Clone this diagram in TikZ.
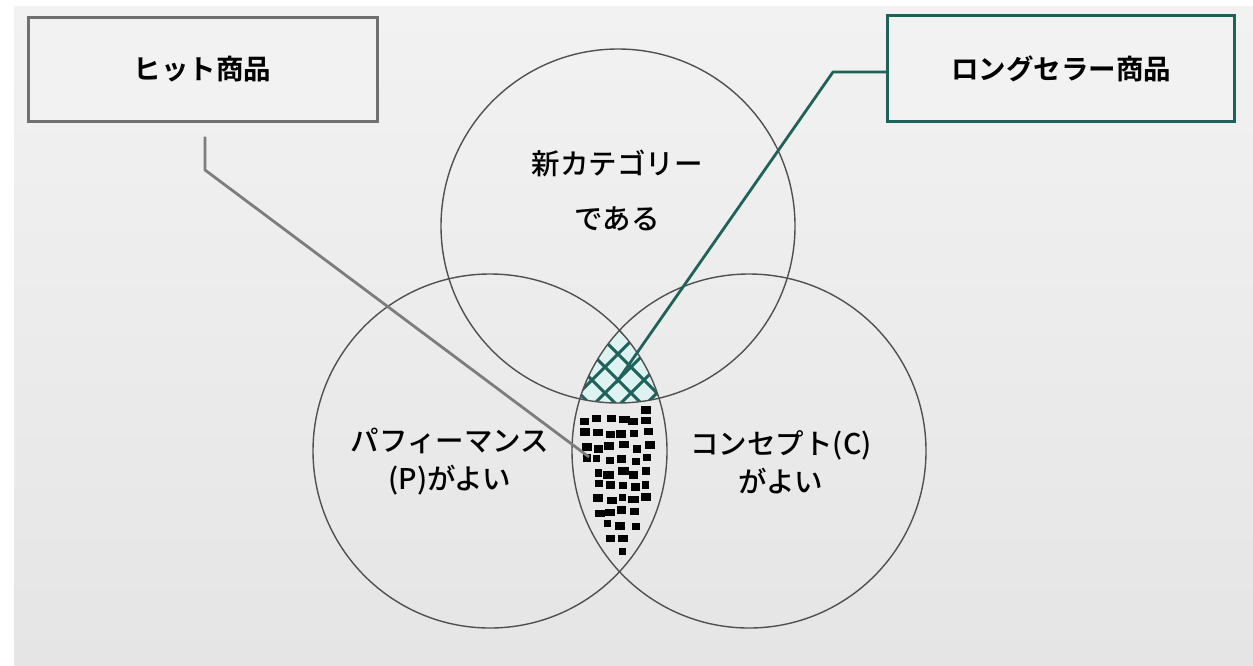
\documentclass[tikz,border=0pt]{standalone}
\usepackage{fontspec}
\newfontfamily\jp{Noto Sans CJK JP Medium}
\newfontfamily\jpb{Noto Sans CJK JP Bold}
\definecolor{teal1}{RGB}{31,98,90}
\definecolor{boxgray}{RGB}{112,112,112}
\definecolor{linegray}{RGB}{125,125,125}
\definecolor{circ}{RGB}{80,80,80}
\definecolor{bgtop}{RGB}{242,242,242}
\definecolor{bgbot}{RGB}{229,229,229}
\definecolor{hatchfill}{RGB}{222,242,242}
\begin{document}
\begin{tikzpicture}[x=1pt,y=-1pt,
  labelbox/.style={rectangle, line width=3pt, fill=bgtop, inner sep=0pt, font=\jpb\fontsize{27.5}{32}\selectfont},
  circtext/.style={align=center, inner sep=0pt},
  vcircle/.style={draw=circ, line width=1.4pt},
  conn/.style={line width=2.8pt}]
\useasboundingbox (0,0) rectangle (1253,665);
\fill[white] (0,0) rectangle (1253,665);
\shade[top color=bgtop, bottom color=bgbot] (14,6) rectangle (1253,665);
% hatch region (triple intersection)
\begin{scope}
  \clip (618,226) circle [radius=177pt];
  \clip (490,451) circle [radius=177pt];
  \clip (749,451) circle [radius=177pt];
  \fill[hatchfill] (540,300) rectangle (700,420);
  \foreach \c in {160,186,...,370} {
    \draw[teal1, line width=3pt] (\c+300,300) -- (\c+420,420);
  }
  \foreach \c in {868,894,...,1100} {
    \draw[teal1, line width=3pt] (\c-300,300) -- (\c-420,420);
  }
\end{scope}
% dots
\pgfmathsetseed{5}
\foreach \i in {0,...,8} {
  \foreach \j in {0,...,12} {
    \pgfmathsetmacro{\xx}{570+\i*12.5+rnd*5}
    \pgfmathsetmacro{\yy}{405+\j*13+rnd*5}
    \pgfmathsetmacro{\ww}{7+rnd*4}
    \pgfmathparse{(veclen(\xx-490,\yy-451)<167 && veclen(\xx-749,\yy-451)<167 && veclen(\xx-618,\yy-226)>184) ? 1 : 0}
    \ifdim\pgfmathresult pt>0.5pt
      \fill[black] (\xx-\ww/2,\yy-3.5) rectangle ++(\ww,7.5);
    \fi
  }
}
% circles
\node[vcircle, circle, minimum size=354pt, inner sep=0pt] (top) at (618,226) {};
\node[vcircle, circle, minimum size=354pt, inner sep=0pt] (left) at (490,451) {};
\node[vcircle, circle, minimum size=354pt, inner sep=0pt] (right) at (749,451) {};
% circle texts
\node[circtext, font=\jp\fontsize{28.5}{55}\selectfont] (ttop) at (617,191) {新カテゴリー\\である};
\node[circtext, font=\jp\fontsize{28.5}{38}\selectfont] (tleft) at (450,462) {パフィーマンス\\(P)がよい};
\node[circtext, font=\jp\fontsize{28.5}{38}\selectfont] (tright) at (781,462) {コンセプト(C)\\がよい};
% boxes
\node[labelbox, draw=boxgray, minimum width=349pt, minimum height=104pt] (hit) at (202.5,69) {ヒット商品};
\node[labelbox, draw=teal1, minimum width=347pt, minimum height=106pt] (long) at (1061,68.5) {ロングセラー商品};
% connectors
\coordinate (hend) at (589,457);
\coordinate (lend) at (616,383);
\draw[conn, linegray, line join=round] ([xshift=2.5pt,yshift=-14pt]hit.south) -- (205,170) -- (hend);
\draw[conn, teal1, line join=round] ([yshift=-3.5pt]long.west) -- (833,72) -- (lend);
\end{tikzpicture}
\end{document}
